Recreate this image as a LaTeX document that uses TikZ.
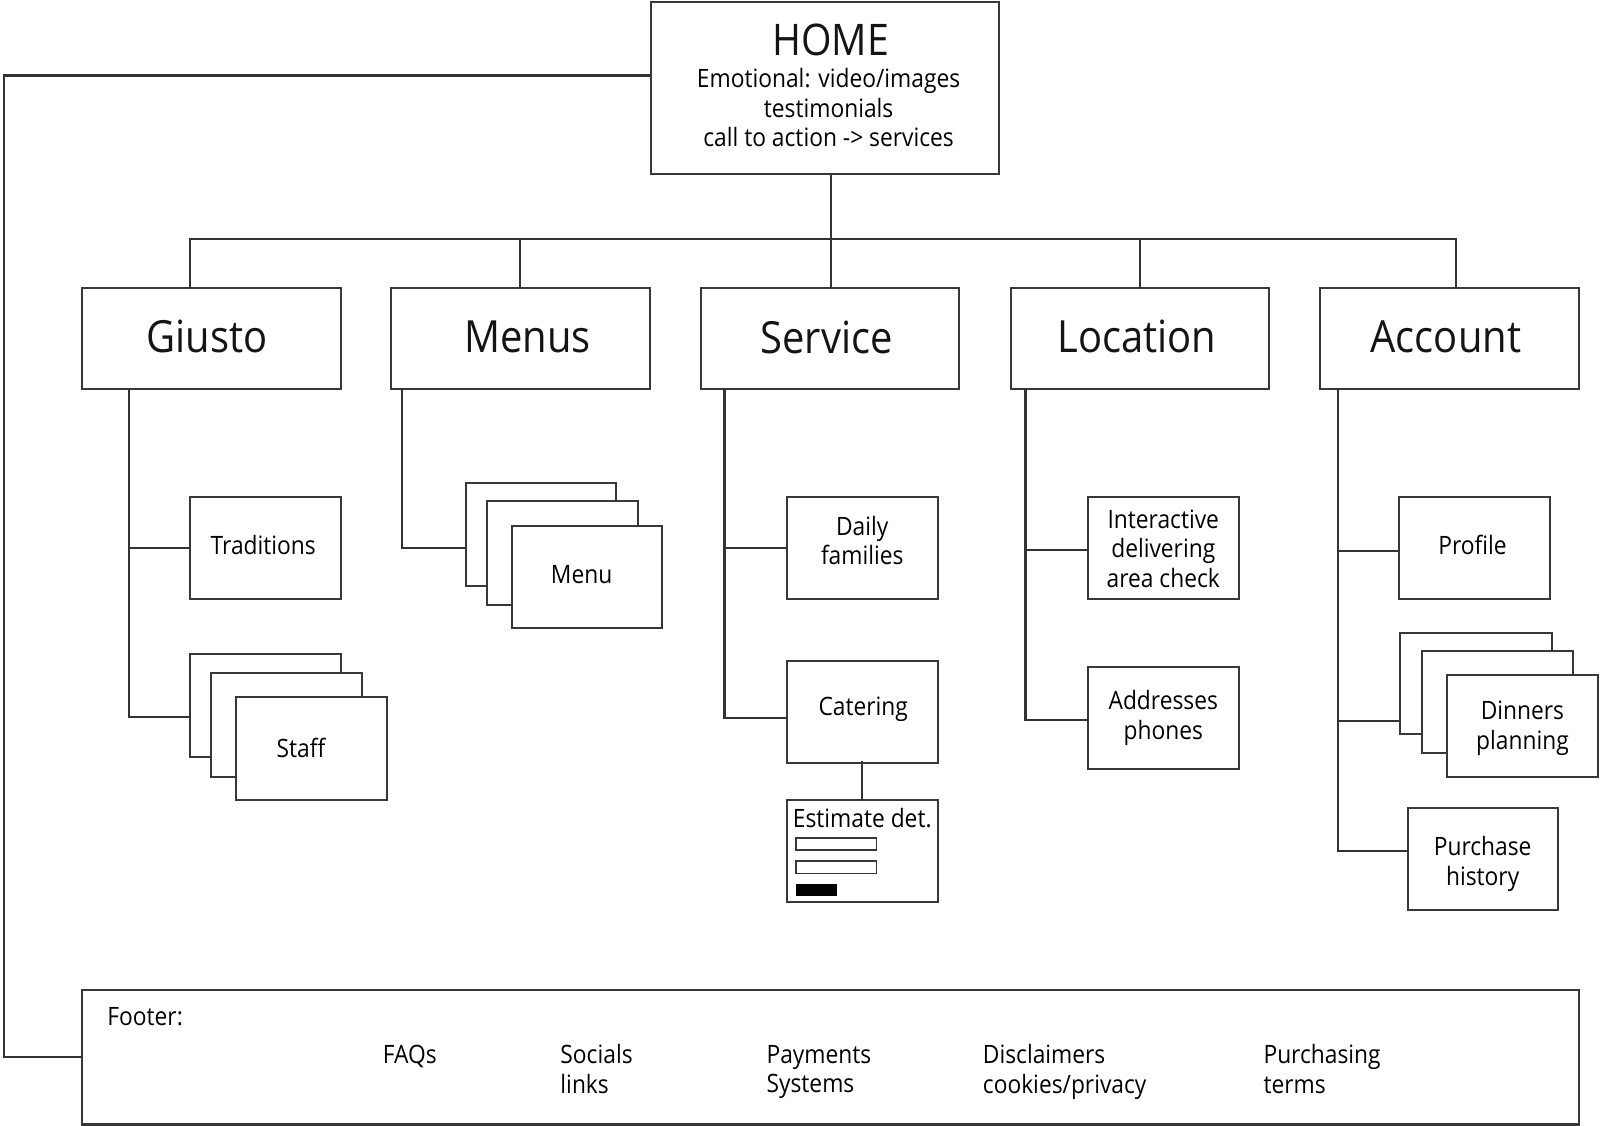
\documentclass[tikz,border=0pt]{standalone}
\usepackage{fontspec}
\setmainfont{Open Sans}[FakeStretch=0.9]
\usetikzlibrary{calc}
\tikzset{
  x=0.75pt,y=-0.75pt,
  line/.style={draw=black!80,line width=1.5pt,line cap=rect},
  boxn/.style={draw=black!78,line width=1.5pt,fill=white,rectangle,inner sep=0pt,line join=miter},
  small/.style={font=\fontsize{18.6}{21.75}\selectfont,align=center,inner sep=0pt,text=black},
  smallL/.style={small,align=left,anchor=west},
  big/.style={font=\fontsize{32.6}{34}\selectfont,inner sep=0pt,text=black!92},
  solid bar/.style={draw=black,fill=black,line width=0.5pt,rectangle,inner sep=0pt},
  bar/.style={draw=black!78,fill=white,line width=1.2pt,rectangle,inner sep=0pt},
}
% name, x0, y0, x1, y1, style
\newcommand{\bx}[6][boxn]{\path let \n1={#4-#2}, \n2={#5-#3} in node[#1,minimum width=\n1*0.75pt,minimum height=\n2*0.75pt] (#6) at ({(#2+#4)/2},{(#3+#5)/2}) {};}
\begin{document}
\begin{tikzpicture}
\useasboundingbox (0,0) rectangle (1568,1102.5);
% boxes
\bx{638.4}{2}{979}{170.4}{home}
\bx{80.4}{282.4}{334}{381}{giusto}
\bx{383.4}{282.4}{637}{381}{menus}
\bx{687}{282.4}{940}{381}{service}
\bx{990.4}{282.4}{1244}{381}{location}
\bx{1293.4}{282.4}{1547}{381}{account}
\bx{186}{487}{334}{587.4}{traditions}
\bx{186}{641}{334}{742}{staffA}
\bx{207}{659.4}{355}{761}{staffB}
\bx{231.4}{683}{379}{784}{staff}
\bx{456.4}{473}{604}{574}{menuA}
\bx{477}{491.4}{625}{593}{menuB}
\bx{501.4}{515}{649}{615.4}{menu}
\bx{771}{487}{919}{587.4}{daily}
\bx{771}{648}{919}{747.4}{catering}
\bx{771}{784}{919}{884}{estimate}
\bx[bar]{780}{821}{859}{833}{barA}
\bx[bar]{780}{844}{859}{856}{barB}
\bx[solid bar]{780}{867}{820}{877}{barC}
\bx{1066}{487}{1214}{587.4}{interactive}
\bx{1066}{654}{1214}{753.4}{addresses}
\bx{1371.4}{487}{1519}{587.4}{profile}
\bx{1372.4}{620}{1521}{719}{dinnersA}
\bx{1393.5}{638.4}{1541.5}{738}{dinnersB}
\bx{1418.4}{661.7}{1566}{761.7}{dinners}
\bx{1380}{791.4}{1527}{892}{purchase}
\bx{80.4}{970}{1547}{1102}{footer}
% junction coordinates
\coordinate (busL) at (186,234);
\coordinate (busM) at (510,234);
\coordinate (busC) at (814,234);
\coordinate (busN) at (1117,234);
\coordinate (busR) at (1427,234);
\coordinate (rail) at (4,74);
\coordinate (tg) at (126,381);
\coordinate (tm) at (394,381);
\coordinate (ts) at (710,381);
\coordinate (tl) at (1005,381);
\coordinate (ta) at (1311,381);
% connectors
\draw[line] (busC |- home.south) -- (busC |- service.north);
\draw[line] (busL) -- (busR);
\draw[line] (busL) -- (busL |- giusto.north);
\draw[line] (busM) -- (busM |- menus.north);
\draw[line] (busN) -- (busN |- location.north);
\draw[line] (busR) -- (busR |- account.north);
\draw[line] (rail -| home.west) -- (rail) -- (4,1036) coordinate (railB) -- (railB -| footer.west);
% Giusto
\draw[line] (tg) -- (126,703) coordinate (g2) -- (g2 -| staffA.west);
\draw[line] (126,537) coordinate (g1) -- (g1 -| traditions.west);
% Menus
\draw[line] (tm) -- (394,537) coordinate (m1) -- (m1 -| menuA.west);
% Service
\draw[line] (ts) -- (710,703.4) coordinate (s2) -- (s2 -| catering.west);
\draw[line] (710,537) coordinate (s1) -- (s1 -| daily.west);
\coordinate (ce) at (845,747);
\draw[line] (ce) -- (ce |- estimate.north);
% Location
\draw[line] (tl) -- (1005,705.4) coordinate (l2) -- (l2 -| addresses.west);
\draw[line] (1005,539) coordinate (l1) -- (l1 -| interactive.west);
% Account
\draw[line] (ta) -- (1311,834.4) coordinate (a3) -- (a3 -| purchase.west);
\draw[line] (1311,540) coordinate (a1) -- (a1 -| profile.west);
\draw[line] (1311,706.9) coordinate (a2) -- (a2 -| dinnersA.west);
% texts
\node[big,font=\fontsize{32}{34}\selectfont] (tHome) at (814,39.5) {HOME};
\node[small] (tHomeB) at (812,105.5) {Emotional: video/images\\testimonials\\call to action -> services};
\node[big] (tGiusto) at (203,330) {Giusto};
\node[big] (tMenus) at (517,330) {Menus};
\node[big] (tService) at (810,330.5) {Service};
\node[big] (tLocation) at (1114,330) {Location};
\node[big] (tAccount) at (1417,330) {Account};
\node[small] (tTrad) at (258,534) {Traditions};
\node[small] (tStaff) at (295,733) {Staff};
\node[small] (tMenu) at (570,563) {Menu};
\node[small] (tDaily) at (845,529.5) {Daily\\families};
\node[small] (tCater) at (846,695) {Catering};
\node[small] (tEst) at (845,802) {Estimate det.};
\node[small] (tInter) at (1140,537.5) {Interactive\\delivering\\area check};
\node[small] (tAddr) at (1140,703.5) {Addresses\\phones};
\node[small] (tProf) at (1443,534) {Profile};
\node[small] (tDin) at (1492,713.5) {Dinners\\planning};
\node[small] (tPur) at (1453,846.5) {Purchase\\history};
\node[smallL] (tFooter) at (105,996) {Footer:};
\node[smallL] (tFaq) at (375,1035.5) {FAQs};
\node[smallL] (tSoc) at (549,1047.5) {Socials\\links};
\node[smallL] (tPay) at (751,1050.5) {Payments\\Systems};
\node[smallL] (tDis) at (963,1050.5) {Disclaimers\\cookies/privacy};
\node[smallL] (tTerms) at (1238,1047.5) {Purchasing\\terms};
\end{tikzpicture}
\end{document}
